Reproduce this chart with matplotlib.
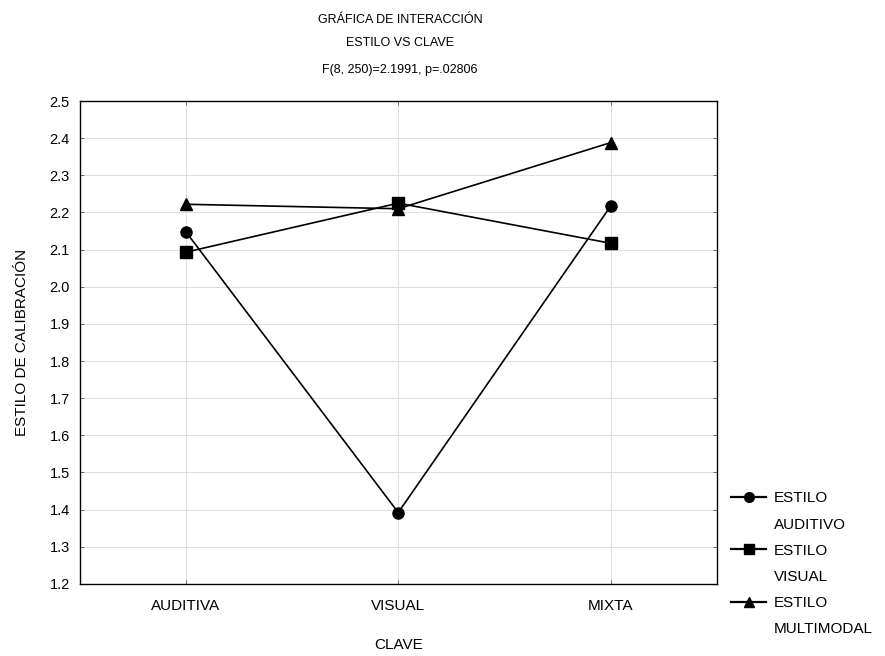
import matplotlib
matplotlib.use('Agg')
import matplotlib.pyplot as plt
from matplotlib.lines import Line2D

# Interaction plot data: ESTILO x CLAVE
claves = ['AUDITIVA', 'VISUAL', 'MIXTA']
auditivo = [2.148, 1.392, 2.217]
visual = [2.093, 2.225, 2.117]
multimodal = [2.222, 2.210, 2.388]
y_ticks = [1.2, 1.3, 1.4, 1.5, 1.6, 1.7, 1.8, 1.9, 2.0, 2.1, 2.2, 2.3, 2.4, 2.5]

plt.rcParams['font.family'] = ['Liberation Sans', 'DejaVu Sans']

fig = plt.figure(figsize=(8.85, 6.56), dpi=100)
ax = fig.add_axes([0.090, 0.110, 0.720, 0.736])

x = list(range(len(claves)))
h1, = ax.plot(x, auditivo, color='black', lw=1.2, marker='o', ms=8)
h2, = ax.plot(x, visual, color='black', lw=1.2, marker='s', ms=8)
h3, = ax.plot(x, multimodal, color='black', lw=1.2, marker='^', ms=8)

ax.set_xlim(-0.5, 2.5)
ax.set_ylim(1.2, 2.5)
ax.set_xticks(x)
ax.set_xticklabels(claves, fontsize=11)
ax.set_yticks(y_ticks)
ax.set_yticklabels([f'{v:.1f}' for v in y_ticks], fontsize=10.5)
ax.tick_params(direction='in', length=3, top=True, right=True, width=0.6, color='#555555')
ax.tick_params(axis='x', pad=11)
ax.tick_params(axis='y', pad=7)
ax.grid(True, color='#dddddd', lw=0.7)
ax.set_axisbelow(True)
for s in ax.spines.values():
    s.set_linewidth(1.0)

ax.set_xlabel('CLAVE', fontsize=11, labelpad=18)
ax.set_ylabel('ESTILO DE CALIBRACIÓN', fontsize=11, labelpad=15)

fig.text(0.452, 0.969, 'GRÁFICA DE INTERACCIÓN', ha='center', va='center', fontsize=9)
fig.text(0.452, 0.934, 'ESTILO VS CLAVE', ha='center', va='center', fontsize=9)
fig.text(0.452, 0.893, 'F(8, 250)=2.1991, p=.02806', ha='center', va='center', fontsize=9)

# legend: each style label split on two rows, handle on the first row
blank = Line2D([], [], alpha=0)
leg_handles = [Line2D([], [], color='black', lw=1.6, marker=h.get_marker(), ms=7)
               for h in (h1, h2, h3)]
handles = [leg_handles[0], blank, leg_handles[1], blank, leg_handles[2], blank]
labels = ['ESTILO', 'AUDITIVO', 'ESTILO', 'VISUAL', 'ESTILO', 'MULTIMODAL']
fig.legend(handles, labels, loc='upper left', bbox_to_anchor=(0.826, 0.251), frameon=False,
           fontsize=11, handlelength=2.3, handletextpad=0.5, labelspacing=0.8,
           borderaxespad=0, borderpad=0)

fig.savefig('out.png', dpi=100)
